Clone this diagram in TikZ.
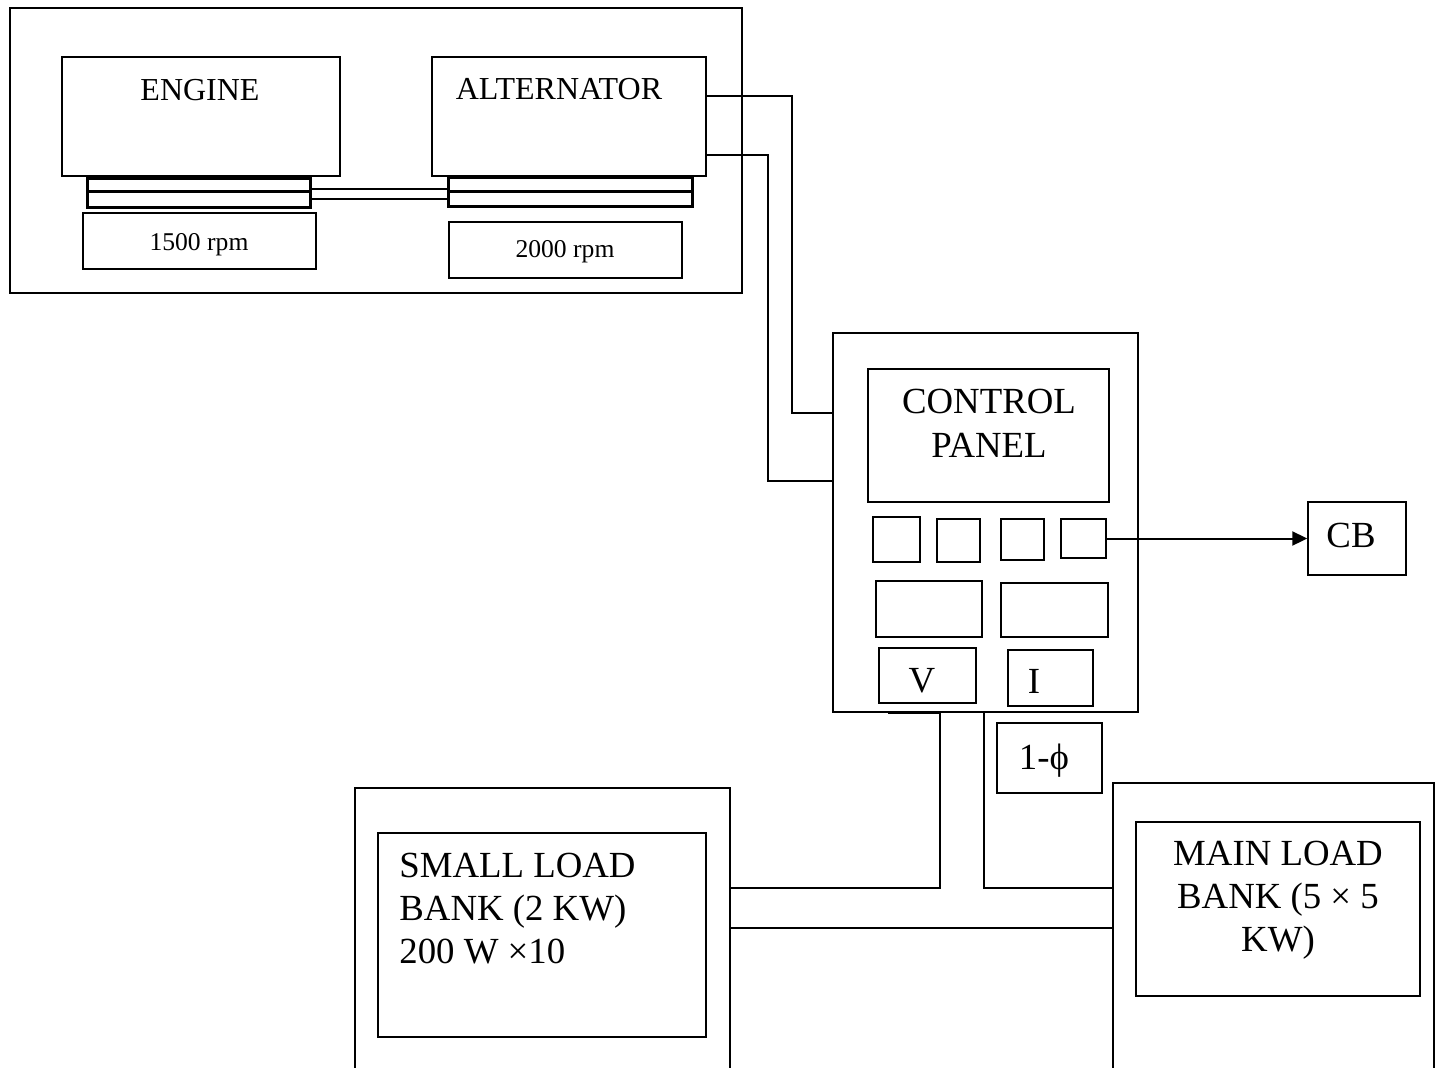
\documentclass[tikz,border=0pt]{standalone}
\usepackage{fontspec}
\setmainfont{Liberation Serif}
\usetikzlibrary{fit,arrows.meta}
\begin{document}
\begin{tikzpicture}[x=0.5pt,y=-0.5pt,
  box/.style={draw,inner sep=0pt,line width=1pt},
  thinbox/.style={draw,inner sep=0pt,line width=0.7pt},
  plate/.style={draw,inner sep=0pt,line width=1.5pt},
  wire/.style={line width=0.6pt},
  lbl/.style={inner sep=0pt,anchor=base,font=\fontsize{16}{19}\selectfont},
  big/.style={inner sep=0pt,anchor=base,font=\fontsize{18.4}{21.5}\selectfont},
  rpm/.style={inner sep=0pt,anchor=base,font=\fontsize{12.8}{15}\selectfont}]
\useasboundingbox (0,0) rectangle (1442,1067);
\clip (0,0) rectangle (1442,1067);
% genset enclosure
\node[box,fit={(10,8) (742,293)}] (genset) {};
\node[box,fit={(62,57) (340,176)}] (engine) {};
\node[box,fit={(432,57) (706,176)}] (alt) {};
\node[plate,fit={(87,178) (310,191)}] (ep1) {};
\node[plate,fit={(87,191) (310,207)}] (ep2) {};
\node[plate,fit={(448,177) (692,191)}] (ap1) {};
\node[plate,fit={(448,191) (692,206)}] (ap2) {};
\node[box,fit={(310,189) (449,199)}] (shaft) {};
\node[thinbox,fit={(83,213) (316,269)}] (rpm1) {};
\node[thinbox,fit={(449,222) (682,278)}] (rpm2) {};
\node[lbl] (tengine) at (200,100) {ENGINE};
\node[lbl] (talt) at (559,99) {ALTERNATOR};
\node[rpm] (t1500) at (199,250) {1500 rpm};
\node[rpm] (t2000) at (565,257) {2000 rpm};
% control panel
\node[draw,inner sep=0pt,line width=1.3pt,fit={(833,333) (1138,712)}] (cp) {};
\node[thinbox,fit={(868,369) (1109,502)}] (cpscreen) {};
\node[big] (tcontrol) at (989,413) {CONTROL};
\node[big] (tpanel) at (989,457) {PANEL};
\node[box,line width=1.2pt,fit={(873,517) (920,562)}] (sq1) {};
\node[box,line width=1.2pt,fit={(937,519) (980,562)}] (sq2) {};
\node[box,line width=1.2pt,fit={(1001,519) (1044,560)}] (sq3) {};
\node[box,line width=1.2pt,fit={(1061,519) (1106,558)}] (sq4) {};
\node[box,line width=1.2pt,fit={(876,581) (982,637)}] (m1) {};
\node[box,line width=1.2pt,fit={(1001,583) (1108,637)}] (m2) {};
\node[thinbox,fit={(879,648) (976,703)}] (vbox) {};
\node[thinbox,fit={(1008,650) (1093,706)}] (ibox) {};
\node[big] (tv) at (922,692) {V};
\node[big] (ti) at (1034,693) {I};
% CB
\node[thinbox,fit={(1308,502) (1406,575)}] (cb) {};
\node[big] (tcb) at (1351,547) {CB};
\draw[line width=1pt,-{Triangle[length=7.5pt,width=7pt]}] (sq4.east) -- (cb.west);
% phase box
\node[thinbox,fit={(997,723) (1102,793)}] (phase) {};
\node[big] (tphase) at (1044,769) {1-ϕ};
% load banks
\node[box,fit={(355,788) (730,1090)}] (small) {};
\node[thinbox,fit={(378,833) (706,1037)}] (smallin) {};
\node[big,anchor=base west] (ts1) at (399,877) {SMALL LOAD};
\node[big,anchor=base west] (ts2) at (399,920) {BANK (2 KW)};
\node[big,anchor=base west] (ts3) at (399,963) {200 W ×10};
\node[box,fit={(1113,783) (1434,1090)}] (main) {};
\node[thinbox,fit={(1136,822) (1420,996)}] (mainin) {};
\node[big] (tm1) at (1278,865) {MAIN LOAD};
\node[big] (tm2) at (1278,908) {BANK (5 × 5};
\node[big] (tm3) at (1278,951) {KW)};
% wires
\draw[wire] (alt.east |- 0,96) -| (792,413) -- (cp.west |- 0,413);
\draw[wire] (alt.east |- 0,155) -| (768,481) -- (cp.west |- 0,481);
\draw[line width=1.3pt] (888,713) -- (940,713);
\draw[wire] (940,712) |- (small.east |- 0,888);
\draw[wire] (984,712) |- (main.west |- 0,888);
\draw[wire] (small.east |- 0,928) -- (main.west |- 0,928);
\end{tikzpicture}
\end{document}
